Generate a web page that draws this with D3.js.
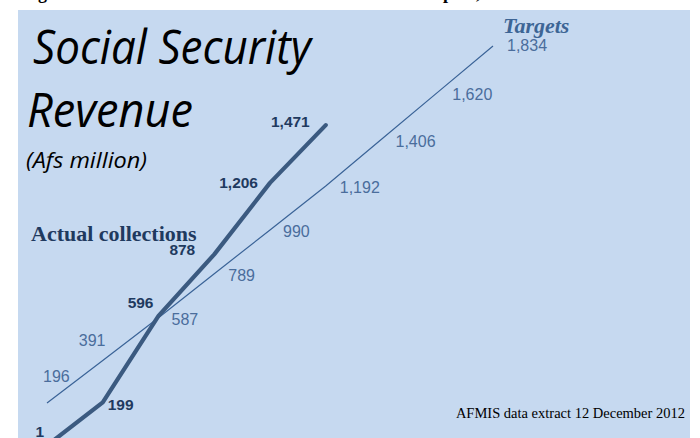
<!DOCTYPE html>
<html>
<head>
<meta charset="utf-8">
<script src="https://cdn.jsdelivr.net/npm/d3@7"></script>
<style>
  html, body { margin: 0; padding: 0; background: #ffffff; }
  svg { display: block; }
</style>
</head>
<body>
<svg id="chart" width="700" height="438"></svg>
<script>
// ---- data ----
const months = ["M1", "M2", "M3", "M4", "M5", "M6", "M7", "M8", "M9"];
const targets = [196, 391, 587, 789, 990, 1192, 1406, 1620, 1834];
const actuals = [1, 199, 596, 878, 1206, 1471];
const targetLabels = ["196", "391", "587", "789", "990", "1,192", "1,406", "1,620", "1,834"];
const actualLabels = ["1", "199", "596", "878", "1,206", "1,471"];

// label placement (style, not data)
const targetLabelOffsets = [[-4, -21], [-24, -14], [13, 7], [14, 7], [13, 7], [14, 7], [14, 8], [15, 7], [14, 5]];
const actualLabelOffsets = [[-3, -8, "end"], [5, 8, "start"], [-5, -8, "end"], [-19, 1, "end"], [-12, 5, "end"], [-16, 2, "end"]];

const svg = d3.select("#chart");
const W = 700, H = 438;

// panel background
svg.append("rect").attr("x", 18).attr("y", 10).attr("width", 672).attr("height", H - 10)
  .attr("fill", "#c6d9f0");

// cut-off heading remnants above the panel
const headG = svg.append("g").attr("font-family", "'Liberation Serif', serif")
  .attr("font-weight", "bold").attr("font-size", 18).attr("fill", "#000");
headG.append("text").attr("x", 38).attr("y", -1).text("g");
headG.append("text").attr("x", 443).attr("y", -1).text("p");
headG.append("text").attr("x", 476).attr("y", -1).text(",");

const x = d3.scalePoint().domain(months).range([47, 493]);
const y = d3.scaleLinear().domain([0, 1834]).range([445.7, 46]);

const line = d3.line().x(d => x(d.m)).y(d => y(d.v));
const tData = targets.map((v, i) => ({ m: months[i], v }));
const aData = actuals.map((v, i) => ({ m: months[i], v }));

// target line
svg.append("path").datum(tData).attr("d", line)
  .attr("fill", "none").attr("stroke", "#3a6397").attr("stroke-width", 1.2);

// actual line
svg.append("path").datum(aData).attr("d", line)
  .attr("fill", "none").attr("stroke", "#3b5a80").attr("stroke-width", 4.2)
  .attr("stroke-linejoin", "round").attr("stroke-linecap", "round");

// target labels
svg.append("g").selectAll("text").data(tData).join("text")
  .attr("x", (d, i) => x(d.m) + targetLabelOffsets[i][0])
  .attr("y", (d, i) => y(d.v) + targetLabelOffsets[i][1])
  .attr("font-family", "'Liberation Sans', Arial, sans-serif")
  .attr("font-size", 16).attr("fill", "#4a6d9c")
  .text((d, i) => targetLabels[i]);

// actual labels
svg.append("g").selectAll("text").data(aData).join("text")
  .attr("x", (d, i) => x(d.m) + actualLabelOffsets[i][0])
  .attr("y", (d, i) => y(d.v) + actualLabelOffsets[i][1])
  .attr("text-anchor", (d, i) => actualLabelOffsets[i][2])
  .attr("font-family", "'Liberation Sans', Arial, sans-serif")
  .attr("font-weight", "bold")
  .attr("font-size", 15.5).attr("fill", "#1f3a5f")
  .text((d, i) => actualLabels[i]);

// series names
svg.append("text").attr("x", 503).attr("y", 33)
  .attr("font-family", "'Liberation Serif', serif").attr("font-weight", "bold")
  .attr("font-style", "italic").attr("font-size", 22).attr("fill", "#3d6595")
  .text("Targets");

svg.append("text").attr("x", 31).attr("y", 241)
  .attr("font-family", "'Liberation Serif', serif").attr("font-weight", "bold")
  .attr("font-size", 22).attr("fill", "#1f3a5f")
  .text("Actual collections");

// title
function fitText(sel, width) {
  const w = sel.node().getComputedTextLength();
  if (Math.abs(w - width) > 2) {
    sel.attr("textLength", width).attr("lengthAdjust", "spacingAndGlyphs");
  }
}
const tFont = "'Open Sans', 'Noto Sans', sans-serif";
const t1 = svg.append("text").attr("x", 33).attr("y", 64)
  .attr("font-family", tFont).attr("font-style", "italic").attr("font-size", 47)
  .attr("fill", "#000").text("Social Security");
fitText(t1, 278);
const t2 = svg.append("text").attr("x", 27).attr("y", 127)
  .attr("font-family", tFont).attr("font-style", "italic").attr("font-size", 47)
  .attr("fill", "#000").text("Revenue");
fitText(t2, 166);
const t3 = svg.append("text").attr("x", 26).attr("y", 168)
  .attr("font-family", tFont).attr("font-style", "italic").attr("font-size", 21)
  .attr("fill", "#000").text("(Afs million)");
fitText(t3, 121);

// source note
svg.append("text").attr("x", 685).attr("y", 418).attr("text-anchor", "end")
  .attr("font-family", "'Liberation Serif', serif").attr("font-size", 14.5)
  .attr("fill", "#000").text("AFMIS data extract 12 December 2012");
</script>
</body>
</html>
